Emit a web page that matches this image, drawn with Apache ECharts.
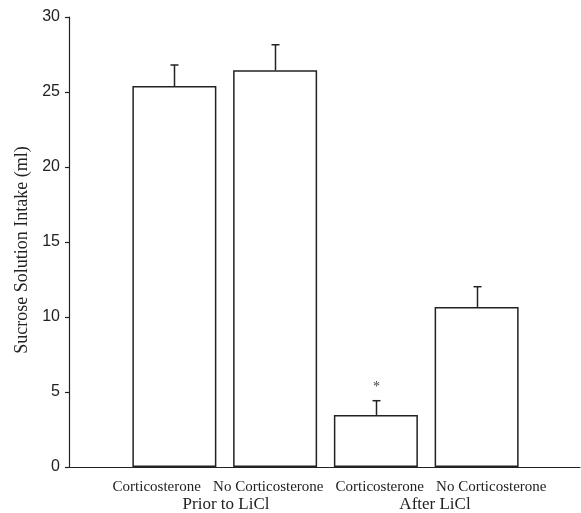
<!DOCTYPE html>
<html>
<head>
<meta charset="utf-8">
<script src="https://cdn.jsdelivr.net/npm/echarts@6/dist/echarts.min.js"></script>
<style>html,body{margin:0;padding:0;background:#fff;}#c{width:581px;height:513px;}</style>
</head>
<body>
<div id="c"></div>
<script>
var categories = ['Corticosterone', 'No Corticosterone', 'Corticosterone', 'No Corticosterone'];
var groups = ['Prior to LiCl', 'After LiCl'];
var means = [25.4, 26.45, 3.47, 10.67];
var errors = [1.4, 1.7, 0.95, 1.35];
var marks = ['', '', '*', ''];
var yTicks = [0, 5, 10, 15, 20, 25, 30];

var chart = echarts.init(document.getElementById('c'), null, {renderer: 'canvas'});
var ink = '#222';
var serif = 'Liberation Serif';
var sans = 'Liberation Sans';

var hiddenY = function (g) {
  return {gridIndex: g, type: 'value', min: yTicks[0], max: yTicks[yTicks.length - 1], interval: 5, show: false};
};

var option = {
  animation: false,
  backgroundColor: '#fff',
  grid: [
    {left: 69, right: 1, top: 17, bottom: 46},
    {left: 124, right: 54, top: 17, bottom: 46},
    {left: 101, right: 34, top: 17, bottom: 46},
    {left: 121.5, right: 41.5, top: 17, bottom: 46}
  ],
  xAxis: [
    {gridIndex: 0, type: 'value', min: 0, max: 1, axisLine: {show: true, onZero: false, lineStyle: {color: ink, width: 1.2}},
      axisTick: {show: false}, axisLabel: {show: false}, splitLine: {show: false}},
    {gridIndex: 1, type: 'category', data: categories, boundaryGap: true,
      axisLine: {show: false}, axisTick: {show: false}, axisLabel: {show: false}},
    {gridIndex: 2, type: 'category', data: categories, boundaryGap: true,
      axisLine: {show: false}, axisTick: {show: false},
      axisLabel: {color: ink, fontFamily: serif, fontSize: 15, margin: 13, interval: 0}},
    {gridIndex: 3, type: 'category', data: groups, position: 'bottom', offset: 19, boundaryGap: true,
      axisLine: {show: false}, axisTick: {show: false},
      axisLabel: {color: ink, fontFamily: serif, fontSize: 17, margin: 13, interval: 0}}
  ],
  yAxis: [
    {gridIndex: 0, type: 'value', min: yTicks[0], max: yTicks[yTicks.length - 1], interval: 5,
      name: 'Sucrose Solution Intake (ml)', nameLocation: 'middle', nameGap: 37,
      nameTextStyle: {fontFamily: serif, fontSize: 18, color: ink, padding: [0, 16, 0, 0]},
      axisLine: {show: true, lineStyle: {color: ink, width: 1.2}},
      axisTick: {show: true, inside: false, length: 4, lineStyle: {color: ink, width: 1.2}},
      axisLabel: {color: ink, fontFamily: sans, fontSize: 16, margin: 9},
      splitLine: {show: false}},
    hiddenY(1), hiddenY(2), hiddenY(3)
  ],
  series: [
    {type: 'bar', xAxisIndex: 1, yAxisIndex: 1, data: means, barWidth: 84,
      itemStyle: {color: '#fff', borderColor: ink, borderWidth: 1.5}},
    {type: 'custom', xAxisIndex: 1, yAxisIndex: 1,
      data: means.map(function (m, i) { return [i, m, m + errors[i]]; }),
      renderItem: function (params, api) {
        var i = api.value(0);
        var base = api.coord([i, api.value(1)]);
        var top = api.coord([i, api.value(2)]);
        var x = Math.round(base[0]) + 0.5;
        var children = [
          {type: 'line', shape: {x1: x, y1: base[1], x2: x, y2: top[1]}, style: {stroke: ink, lineWidth: 1.5}},
          {type: 'line', shape: {x1: x - 4, y1: top[1], x2: x + 4, y2: top[1]}, style: {stroke: ink, lineWidth: 1.5}}
        ];
        if (marks[i]) {
          children.push({type: 'text', style: {text: marks[i], x: x, y: top[1] - 13, align: 'center', verticalAlign: 'middle',
            fontFamily: serif, fontSize: 14, fill: '#444'}});
        }
        return {type: 'group', children: children};
      },
      z: 5}
  ]
};
chart.setOption(option);
</script>
</body>
</html>
